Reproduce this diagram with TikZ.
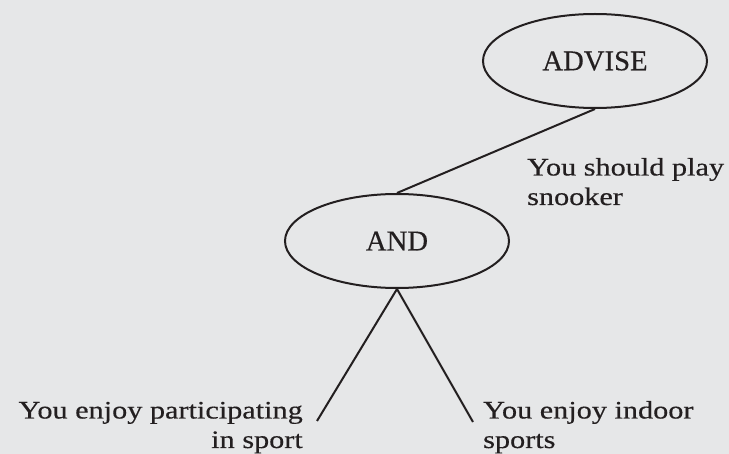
\documentclass[tikz,border=0pt]{standalone}
\usepackage{fontspec}
\usetikzlibrary{shapes.geometric}
\setmainfont{Liberation Serif}[FakeBold=0.4]
\newfontfamily\bodyfont{Liberation Serif}[FakeStretch=1.2, FakeBold=0.4]
\definecolor{paper}{HTML}{E6E7E8}
\definecolor{ink}{HTML}{231F20}
\tikzset{
  goal/.style={ellipse, draw=ink, line width=2pt, minimum width=224pt,
    minimum height=94pt, inner sep=0pt, text=ink,
    font=\fontsize{28.7}{32}\selectfont},
  caption/.style={inner sep=0pt, text=ink,
    font=\bodyfont\fontsize{25.2}{29.5}\selectfont},
  link/.style={draw=ink, line width=2pt}
}
\begin{document}
\begin{tikzpicture}[x=1pt, y=-1pt]
  \fill[paper] (0,0) rectangle (729,454);
  \useasboundingbox (0,0) rectangle (729,454);

  % goal nodes
  \node[goal] (advise) at (595,61) {ADVISE};
  \node[goal] (and) at (397,241) {AND};

  % text of the conclusion and the two conditions (anchored on the last baseline)
  \node[caption, anchor=base west, align=left] (play) at (527,205)
    {You should play\\snooker};
  \node[caption, anchor=base east, align=right] (sport) at (303,448)
    {You enjoy participating\\in sport};
  \node[caption, anchor=base west, align=left] (indoor) at (483,448)
    {You enjoy indoor\\sports};

  % free ends of the two condition branches
  \coordinate (lfoot) at (317,421);
  \coordinate (rfoot) at (473,422);

  % connectors
  \draw[link] (and.north) -- (advise.south);
  \draw[link] (and.south) -- (lfoot);
  \draw[link] (and.south) -- (rfoot);
\end{tikzpicture}
\end{document}
